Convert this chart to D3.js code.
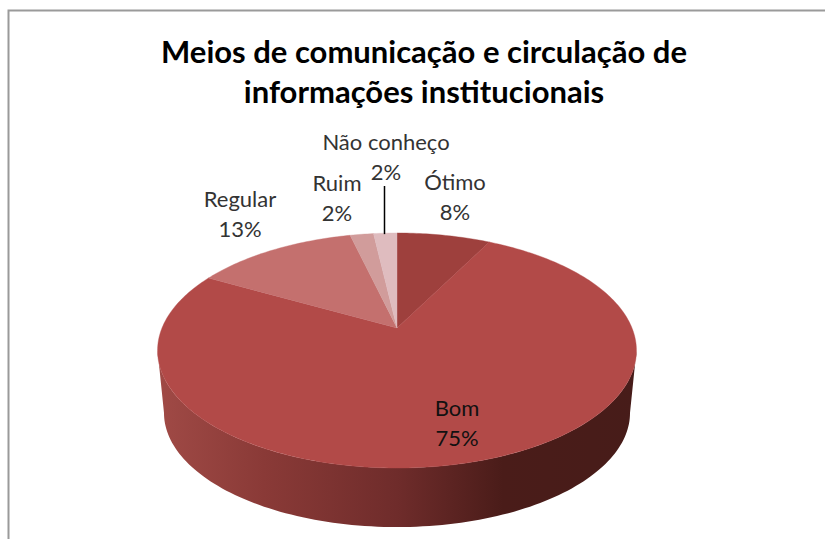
<!DOCTYPE html>
<html><head><meta charset="utf-8">
<script src="https://cdnjs.cloudflare.com/ajax/libs/d3/7.8.5/d3.min.js"></script>
<style>html,body{margin:0;padding:0;background:#fff}svg{display:block}text{font-family:Lato,"Open Sans",sans-serif}</style>
</head><body><div id="chart"></div>
<script>
const categories = ["Ótimo", "Bom", "Regular", "Ruim", "Não conheço"];
const values = [7.6, 75.4, 13.2, 1.9, 1.9];
const sliceColors = ["#9e403d", "#b24a48", "#c4706e", "#d19c9b", "#dfbcbf"];
const titleLines = ["Meios de comunicação e circulação de", "informações institucionais"];

const W = 825, H = 539;
const svg = d3.select("#chart").append("svg").attr("width", W).attr("height", H);

// Frame (left and top only, as in the reference)
svg.append("path").attr("d", "M8.5,539V10.5H825").attr("fill", "none").attr("stroke", "#9a9a9a").attr("stroke-width", 2);

// Perspective projection of the unit disc
const k = -0.1915;
const cx = 397;
const project = (a, b, cy) => (ang, r = 1) => {
  const u = Math.sin(ang) * r, v = -Math.cos(ang) * r, d = 1 + k * v;
  return [cx + a * u / d, cy + b * v / d];
};
const topFace = project(235, 113.2, 328);
const baseFace = project(228.7, 110, 391);

const grad = svg.append("defs").append("linearGradient").attr("id", "wall")
  .attr("gradientUnits", "userSpaceOnUse").attr("x1", 158).attr("x2", 637).attr("y1", 0).attr("y2", 0);
[[0, "#a04a46"], [0.22, "#8a3a37"], [0.5, "#6f2c2b"], [0.72, "#4a1c19"], [1, "#471c19"]]
  .forEach(([o, c]) => grad.append("stop").attr("offset", o).attr("stop-color", c));

const line = d3.line();
// Side wall between the rim tangents of the two faces
const tangent = Math.acos(k);
const sweep = d3.scaleLinear().domain([0, 120]).range([tangent, 2 * Math.PI - tangent]);
const wallAngles = d3.range(0, 121).map(sweep);
const wallPts = wallAngles.map(a => topFace(a)).concat(wallAngles.slice().reverse().map(a => baseFace(a)));
svg.append("path").attr("d", line(wallPts) + "Z").attr("fill", "url(#wall)");

// Top face slices
const pie = d3.pie().sort(null).value(d => d);
const arcs = pie(values);
svg.selectAll("path.slice").data(arcs).join("path").attr("class", "slice")
  .attr("d", d => {
    const n = Math.max(4, Math.ceil((d.endAngle - d.startAngle) * 60));
    const s = d3.scaleLinear().domain([0, n]).range([d.startAngle, d.endAngle]);
    return line([topFace(0, 0)].concat(d3.range(n + 1).map(i => topFace(s(i))))) + "Z";
  })
  .attr("fill", (d, i) => sliceColors[i])
  .attr("stroke", (d, i) => sliceColors[i]).attr("stroke-width", 0.4);

// Title
svg.selectAll("text.title").data(titleLines).join("text").attr("class", "title")
  .attr("x", 424).attr("y", (d, i) => 63 + i * 40)
  .attr("text-anchor", "middle").attr("font-size", 31).attr("font-weight", 700).attr("fill", "#000")
  .text(d => d);

// Leader line for "Não conheço"
const labelPos = [[455, 182], [457, 408], [240, 199], [337, 183], [386, 142]];
const rim = topFace((arcs[4].startAngle + arcs[4].endAngle) / 2);
svg.append("line").attr("x1", 384.5).attr("x2", 384.5).attr("y1", 186).attr("y2", rim[1] + 1)
  .attr("stroke", "#000").attr("stroke-width", 1.5);

// Data labels
const fmt = v => Math.round(v) + "%";
const labels = svg.selectAll("g.label").data(categories).join("g").attr("class", "label")
  .attr("transform", (d, i) => `translate(${labelPos[i]})`).attr("text-anchor", "middle")
  .attr("font-size", 22).attr("fill", (d, i) => i === 1 ? "#111" : "#333");
labels.append("text").attr("y", 8).text(d => d);
labels.append("text").attr("y", 38).text((d, i) => fmt(values[i]));
</script></body></html>
